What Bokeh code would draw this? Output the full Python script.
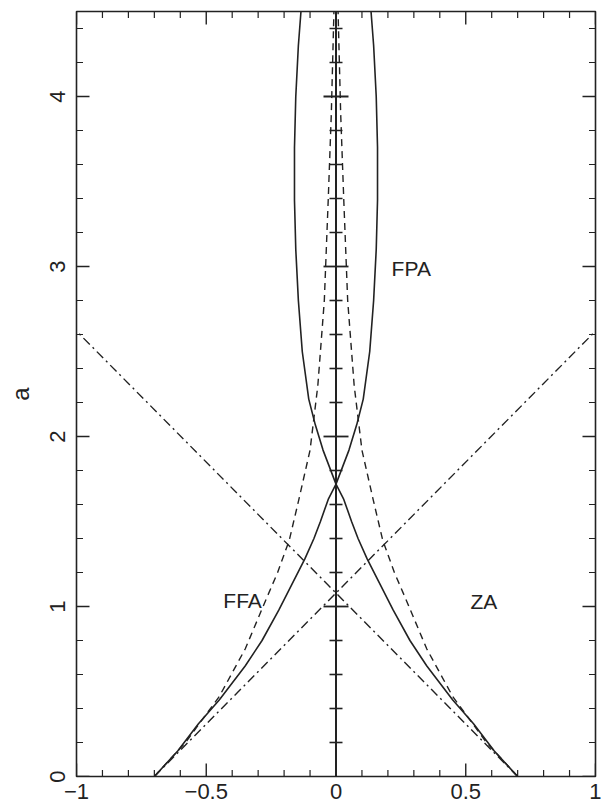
from math import pi
from bokeh.plotting import figure
from bokeh.models import Label, Range1d, Span, FixedTicker
from bokeh.embed import file_html
from bokeh.resources import INLINE

# ---- data ----
x_ticks = [-1, -0.5, 0, 0.5, 1]
x_tick_labels = ["\u22121", "\u22120.5", "0", "0.5", "1"]
x_minor = [-0.9, -0.8, -0.7, -0.6, -0.4, -0.3, -0.2, -0.1,
           0.1, 0.2, 0.3, 0.4, 0.6, 0.7, 0.8, 0.9]
y_ticks = [0, 1, 2, 3, 4]
y_tick_labels = ["0", "1", "2", "3", "4"]
y_minor = [0.2, 0.4, 0.6, 0.8, 1.2, 1.4, 1.6, 1.8, 2.2, 2.4, 2.6, 2.8,
           3.2, 3.4, 3.6, 3.8, 4.2, 4.4]
y_label = "a"

# FPA (solid): one branch, the other is its mirror image
fpa_a = [0.0, 0.15, 0.31, 0.45, 0.65, 0.8, 0.98, 1.13, 1.28, 1.4, 1.5, 1.63,
         1.72, 1.82, 1.92, 2.07, 2.22, 2.5, 2.8, 3.1, 3.39, 3.7, 4.0, 4.3, 4.5]
fpa_x = [-0.70, -0.61, -0.53, -0.45, -0.35, -0.285, -0.22, -0.17, -0.12, -0.085,
         -0.06, -0.03, 0.0, 0.025, 0.05, 0.08, 0.105, 0.13, 0.145, 0.155, 0.16,
         0.16, 0.155, 0.145, 0.135]

# FFA (dashed)
ffa_a = [0.0, 0.2, 0.47, 0.75, 1.04, 1.2, 1.39, 1.63, 1.92, 2.3, 2.8, 3.39, 3.9, 4.5]
ffa_x = [-0.70, -0.58, -0.45, -0.35, -0.27, -0.225, -0.18, -0.143, -0.10, -0.07,
         -0.045, -0.03, -0.018, -0.008]

# ZA (dash-dot straight lines)
za_x = [-0.70, 1.0]
za_a = [0.0, 2.62]

# rungs on the a-axis through x = 0
rung_minor = [0.2, 0.4, 0.6, 0.8, 1.2, 1.4, 1.6, 1.8, 2.2, 2.4, 2.6, 2.8,
              3.2, 3.4, 3.6, 3.8, 4.2, 4.4]
rung_major = [1.0, 2.0, 3.0, 4.0]
rung_x0 = 0.0

curve_labels = ["FPA", "FFA", "ZA"]
label_x = [0.29, -0.36, 0.57]
label_a = [2.99, 1.035, 1.03]

FONT = "Liberation Sans"
INK = "#222222"
X0, X1, Y0, Y1 = -1, 1, 0, 4.5

p = figure(width=601, height=809, output_backend="svg", toolbar_location=None,
           x_range=Range1d(X0, X1), y_range=Range1d(Y0, Y1),
           min_border_left=76, min_border_right=6, min_border_top=11,
           min_border_bottom=33, background_fill_color="white",
           border_fill_color="white")
p.xgrid.visible = False
p.ygrid.visible = False
p.outline_line_color = INK
p.outline_line_width = 1.6

# axes only carry the labels; the ticks are drawn as inward marks below
for ax, ticks, labels in ((p.xaxis[0], x_ticks, x_tick_labels),
                          (p.yaxis[0], y_ticks, y_tick_labels)):
    ax.ticker = FixedTicker(ticks=ticks)
    ax.major_label_overrides = {t: l for t, l in zip(ticks, labels)}
    ax.axis_line_color = None
    ax.major_tick_line_color = None
    ax.minor_tick_line_color = None
    ax.major_tick_in = 0
    ax.major_tick_out = 0
    ax.minor_tick_in = 0
    ax.minor_tick_out = 0
    ax.major_label_text_font = FONT
    ax.major_label_text_font_size = "22px"
    ax.major_label_text_color = INK
p.xaxis[0].major_label_standoff = 7
p.yaxis[0].major_label_orientation = "vertical"
p.yaxis[0].major_label_standoff = 12
p.yaxis[0].axis_label = y_label
p.yaxis[0].axis_label_text_font = FONT
p.yaxis[0].axis_label_text_font_size = "24px"
p.yaxis[0].axis_label_text_font_style = "normal"
p.yaxis[0].axis_label_text_color = INK
p.yaxis[0].axis_label_standoff = 13

MAJ, MIN = 26, 13   # marker length: half lies inside the frame

# inward ticks on all four sides (the half outside the frame is clipped)
for yy in (Y0, Y1):
    p.scatter(x_ticks, [yy] * len(x_ticks), marker="dash", angle=pi / 2, size=MAJ,
              line_color=INK, line_width=1.4)
    p.scatter(x_minor, [yy] * len(x_minor), marker="dash", angle=pi / 2, size=MIN,
              line_color=INK, line_width=1.2)
for xx in (X0, X1):
    p.scatter([xx] * len(y_ticks), y_ticks, marker="dash", size=MAJ,
              line_color=INK, line_width=1.4)
    p.scatter([xx] * len(y_minor), y_minor, marker="dash", size=MIN,
              line_color=INK, line_width=1.2)

# central line with rungs
p.add_layout(Span(location=rung_x0, dimension="height", line_color=INK, line_width=2))
p.scatter([rung_x0] * len(rung_minor), rung_minor, marker="dash", size=13,
          line_color=INK, line_width=1.6)
p.scatter([rung_x0] * len(rung_major), rung_major, marker="dash", size=25,
          line_color=INK, line_width=1.8)

# FPA solid
p.line(fpa_x, fpa_a, line_color=INK, line_width=1.6)
p.line([-v for v in fpa_x], fpa_a, line_color=INK, line_width=1.6)
# FFA dashed
p.line(ffa_x, ffa_a, line_color=INK, line_width=1.4, line_dash="7 5")
p.line([-v for v in ffa_x], ffa_a, line_color=INK, line_width=1.4, line_dash="7 5")
# ZA dash-dot
p.line(za_x, za_a, line_color=INK, line_width=1.4, line_dash="9 4 2 4")
p.line([-v for v in za_x], za_a, line_color=INK, line_width=1.4, line_dash="9 4 2 4")

for t, lx, la in zip(curve_labels, label_x, label_a):
    p.add_layout(Label(x=lx, y=la, text=t, text_font=FONT, text_font_size="21px",
                       text_color=INK, text_align="center", text_baseline="middle"))

open("out.html", "w").write(file_html(p, INLINE))
